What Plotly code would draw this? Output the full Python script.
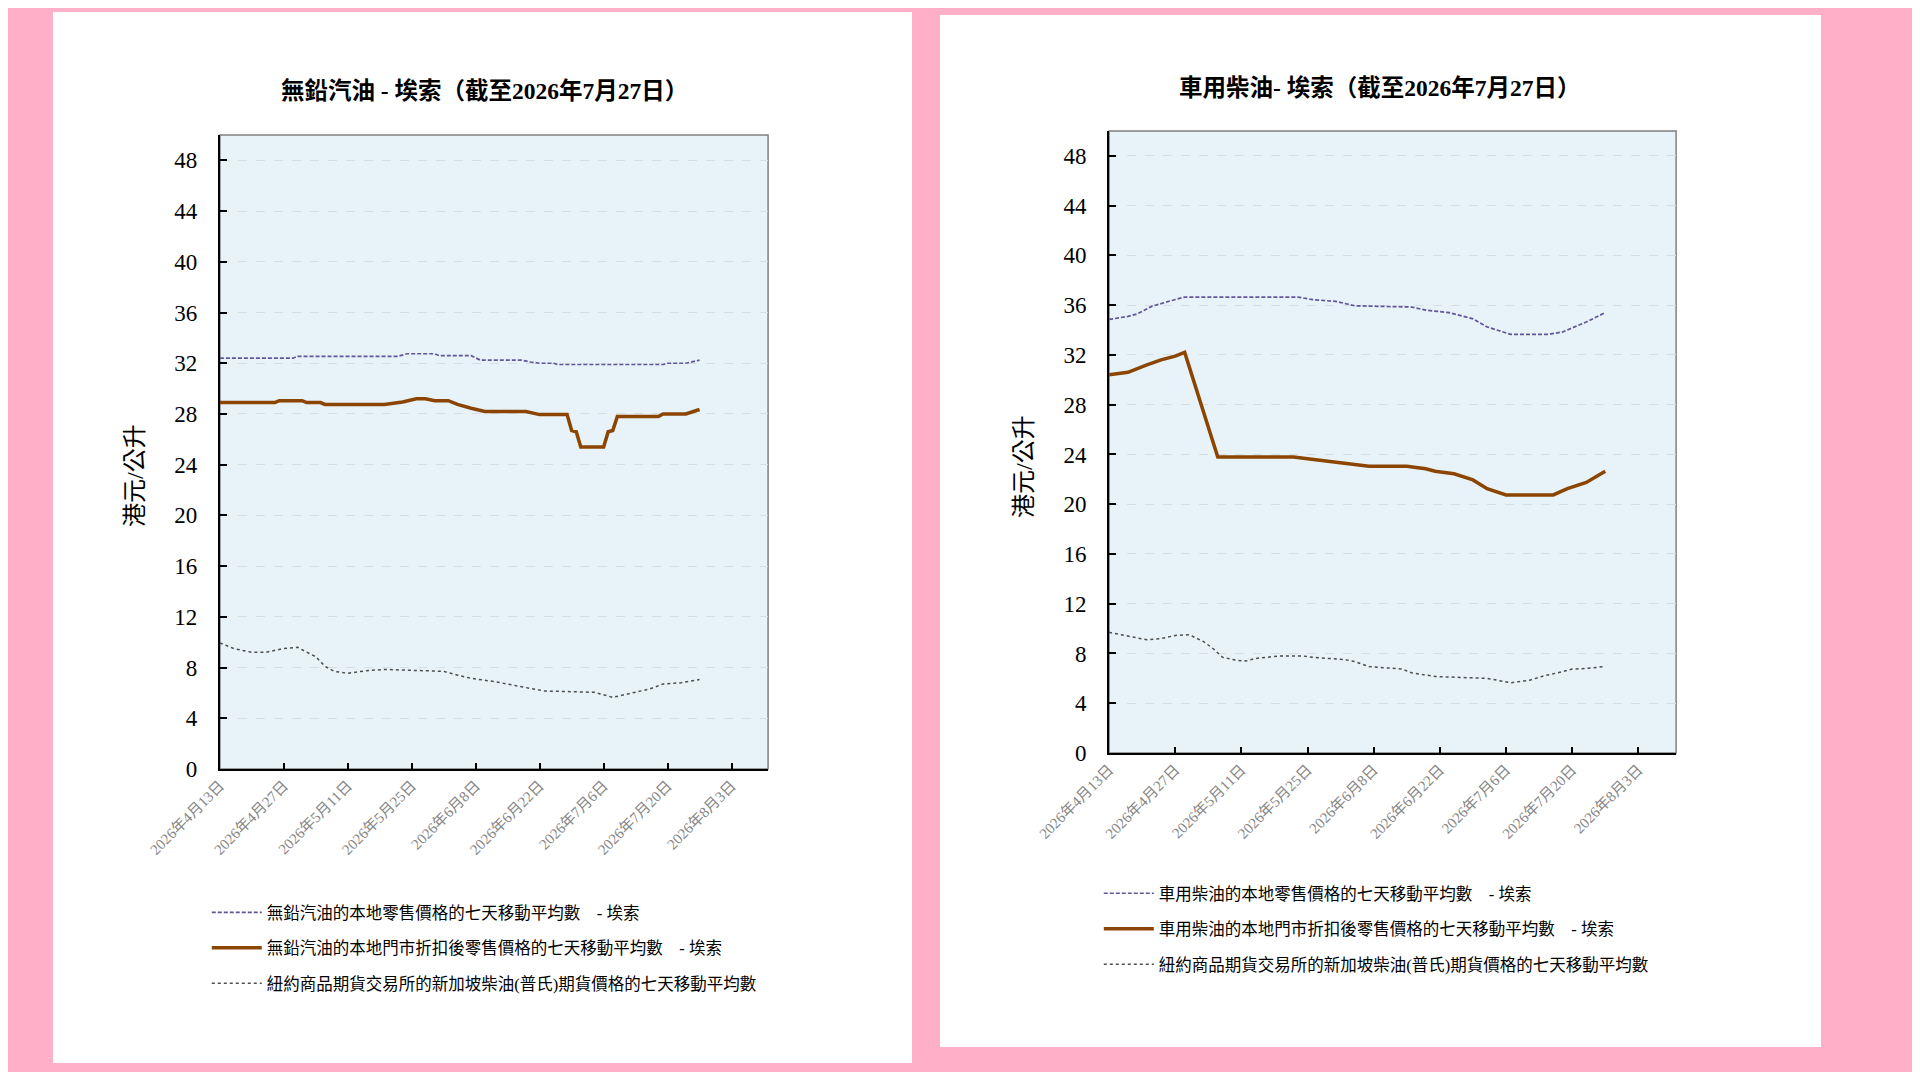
import plotly.graph_objects as go
import pandas as pd

# day offsets from 2026-04-13 and values (HK$ per litre)
start = pd.Timestamp("2026-04-13")

# unleaded petrol - Esso
ulp_retail_days = [0, 16, 17, 39, 41, 47, 48, 55, 57, 66, 68, 70, 73, 74, 97, 98, 102, 105]
ulp_retail_vals = [32.4, 32.4, 32.55, 32.55, 32.75, 32.75, 32.6, 32.6, 32.25, 32.25, 32.1, 32.0, 32.0,
                   31.9, 31.9, 32.0, 32.0, 32.25]

ulp_disc_days = [0, 12, 13, 18, 19, 22, 23, 36, 40, 43, 45, 47, 50, 52, 55, 58, 67, 70, 76, 77, 78, 79,
                 84, 85, 86, 87, 96, 97, 102, 105]
ulp_disc_vals = [28.9, 28.9, 29.05, 29.05, 28.9, 28.9, 28.75, 28.75, 28.95, 29.2, 29.2, 29.05, 29.05,
                 28.75, 28.45, 28.2, 28.2, 27.95, 27.95, 26.7, 26.6, 25.4, 25.4, 26.6, 26.7, 27.8, 27.8,
                 28.0, 28.0, 28.35]

ulp_fut_days = [0, 3, 7, 10, 14, 17, 18, 21, 23, 25, 28, 32, 36, 43, 49, 52, 55, 60, 64, 68, 71, 82,
                86, 90, 94, 97, 101, 105]
ulp_fut_vals = [9.95, 9.5, 9.2, 9.2, 9.5, 9.6, 9.4, 8.85, 8.1, 7.7, 7.55, 7.75, 7.85, 7.8, 7.7, 7.4,
                7.15, 6.9, 6.65, 6.35, 6.15, 6.05, 5.65, 5.95, 6.3, 6.7, 6.8, 7.05]

# diesel - Esso
dsl_retail_days = [0, 4, 6, 9, 13, 16, 40, 43, 48, 52, 64, 67, 72, 77, 80, 85, 93, 96, 101, 105]
dsl_retail_vals = [34.85, 35.1, 35.3, 35.9, 36.35, 36.65, 36.65, 36.45, 36.3, 35.95, 35.85, 35.6, 35.4,
                   34.9, 34.25, 33.65, 33.65, 33.85, 34.65, 35.4]

dsl_disc_days = [0, 4, 8, 11, 14, 16, 23, 39, 42, 46, 51, 55, 63, 67, 69, 73, 77, 80, 84, 94, 97, 101, 105]
dsl_disc_vals = [30.4, 30.6, 31.2, 31.6, 31.9, 32.2, 23.8, 23.8, 23.65, 23.45, 23.2, 23.05, 23.05, 22.85,
                 22.65, 22.45, 21.95, 21.25, 20.75, 20.75, 21.25, 21.75, 22.65]

dsl_fut_days = [0, 5, 8, 11, 14, 17, 20, 22, 24, 27, 29, 31, 36, 41, 43, 50, 52, 55, 62, 64, 69, 80, 82,
                85, 89, 92, 95, 98, 101, 105]
dsl_fut_vals = [9.7, 9.3, 9.1, 9.2, 9.45, 9.5, 8.95, 8.4, 7.7, 7.45, 7.4, 7.6, 7.8, 7.8, 7.7, 7.5, 7.35,
                6.95, 6.75, 6.45, 6.15, 6.0, 5.85, 5.65, 5.85, 6.2, 6.45, 6.75, 6.8, 6.95]

tick_vals = ["2026-04-13", "2026-04-27", "2026-05-11", "2026-05-25", "2026-06-08",
             "2026-06-22", "2026-07-06", "2026-07-20", "2026-08-03"]
tick_text = ["2026年4月13日", "2026年4月27日", "2026年5月11日", "2026年5月25日", "2026年6月8日",
             "2026年6月22日", "2026年7月6日", "2026年7月20日", "2026年8月3日"]
y_ticks = [0, 4, 8, 12, 16, 20, 24, 28, 32, 36, 40, 44, 48]

names_ulp = ["無鉛汽油的本地零售價格的七天移動平均數　- 埃索",
             "無鉛汽油的本地門市折扣後零售價格的七天移動平均數　- 埃索",
             "紐約商品期貨交易所的新加坡柴油(普氏)期貨價格的七天移動平均數"]
names_dsl = ["車用柴油的本地零售價格的七天移動平均數　- 埃索",
             "車用柴油的本地門市折扣後零售價格的七天移動平均數　- 埃索",
             "紐約商品期貨交易所的新加坡柴油(普氏)期貨價格的七天移動平均數"]


def to_dates(days):
    return [start + pd.Timedelta(days=d) for d in days]


FONT = "Liberation Serif, Noto Sans CJK TC, sans-serif"
PURPLE = "#64559a"
BROWN = "#8b4500"
DOTS = "#4d4d4d"

fig = go.Figure()

series = [
    ("x", "y", "legend", names_ulp, [(ulp_retail_days, ulp_retail_vals), (ulp_disc_days, ulp_disc_vals),
                                     (ulp_fut_days, ulp_fut_vals)]),
    ("x2", "y2", "legend2", names_dsl, [(dsl_retail_days, dsl_retail_vals), (dsl_disc_days, dsl_disc_vals),
                                        (dsl_fut_days, dsl_fut_vals)]),
]
styles = [dict(color=PURPLE, width=1.7, dash="4px,2px"),
          dict(color=BROWN, width=3.5),
          dict(color=DOTS, width=1.5, dash="dot")]

for xa, ya, leg, names, data in series:
    for i, (days, vals) in enumerate(data):
        fig.add_trace(go.Scatter(x=to_dates(days), y=vals, mode="lines", name=names[i],
                                 line=styles[i], xaxis=xa, yaxis=ya, legend=leg,
                                 legendgroup=leg + str(i)))

xaxis_style = dict(type="date", range=["2026-04-13", "2026-08-11"], tickvals=tick_vals, ticktext=tick_text,
                   tickangle=-45, ticks="inside", ticklen=6, tickwidth=2, tickcolor="black",
                   showline=True, linecolor="black", linewidth=2, showgrid=False, zeroline=False,
                   automargin=False, tickfont=dict(family=FONT, size=15, color="#858585"))
yaxis_style = dict(range=[0, 50], tickvals=y_ticks, ticks="inside", ticklen=7, tickwidth=2,
                   tickcolor="black", showline=True, linecolor="black", linewidth=2,
                   showgrid=True, gridcolor="#d8dde0", griddash="dash", gridwidth=1, zeroline=False,
                   automargin=False, ticklabelstandoff=16,
                   tickfont=dict(family=FONT, size=23, color="black"))
legend_style = dict(xanchor="left", yanchor="top", traceorder="grouped", tracegroupgap=11, itemwidth=50,
                    bgcolor="rgba(0,0,0,0)", font=dict(family=FONT, size=16.5))

# figure is 1904x1064 so it sits inside the page margin without scrolling
fig.update_layout(
    width=1904, height=1064,
    margin=dict(l=0, r=0, t=0, b=0),
    paper_bgcolor="#ffafc8",
    plot_bgcolor="rgba(0,0,0,0)",
    font=dict(family=FONT, color="black"),
    xaxis=dict(domain=[0.1113, 0.3992], anchor="y", **xaxis_style),
    yaxis=dict(domain=[0.2848, 0.8806], anchor="x", **yaxis_style),
    xaxis2=dict(domain=[0.5783, 0.8761], anchor="y2", **xaxis_style),
    yaxis2=dict(domain=[0.2998, 0.8844], anchor="x2", **yaxis_style),
    legend=dict(x=0.1044, y=0.1663, **legend_style),
    legend2=dict(x=0.5729, y=0.1842, **legend_style),
    showlegend=True,
)

# white cards, plot backgrounds with grey top/right border
fig.add_shape(type="rect", xref="paper", yref="paper", x0=0.0236, x1=0.4748, y0=0.0085, y1=0.9962,
              fillcolor="white", line_width=0, layer="below")
fig.add_shape(type="rect", xref="paper", yref="paper", x0=0.4895, x1=0.9522, y0=0.0235, y1=0.9934,
              fillcolor="white", line_width=0, layer="below")
for xa, ya in [("x", "y"), ("x2", "y2")]:
    fig.add_shape(type="rect", xref=xa + " domain", yref=ya + " domain", x0=0, x1=1, y0=0, y1=1,
                  fillcolor="#e7f3f8", line=dict(color="#808080", width=1.5), layer="below")

# titles
fig.add_annotation(text="<b>無鉛汽油 - 埃索（截至2026年7月27日）</b>", x=0.25, y=0.922,
                   xref="paper", yref="paper", xanchor="center", yanchor="middle", showarrow=False,
                   font=dict(family=FONT, size=23.5))
fig.add_annotation(text="<b>車用柴油- 埃索（截至2026年7月27日）</b>", x=0.7201, y=0.9248,
                   xref="paper", yref="paper", xanchor="center", yanchor="middle", showarrow=False,
                   font=dict(family=FONT, size=23.5))
# y axis titles
fig.add_annotation(text="港元/公升", x=0.0667, y=0.5611, xref="paper", yref="paper", xanchor="center",
                   yanchor="middle", showarrow=False, textangle=-90, font=dict(family=FONT, size=24))
fig.add_annotation(text="港元/公升", x=0.5336, y=0.5695, xref="paper", yref="paper", xanchor="center",
                   yanchor="middle", showarrow=False, textangle=-90, font=dict(family=FONT, size=24))

fig.write_html("out.html")
